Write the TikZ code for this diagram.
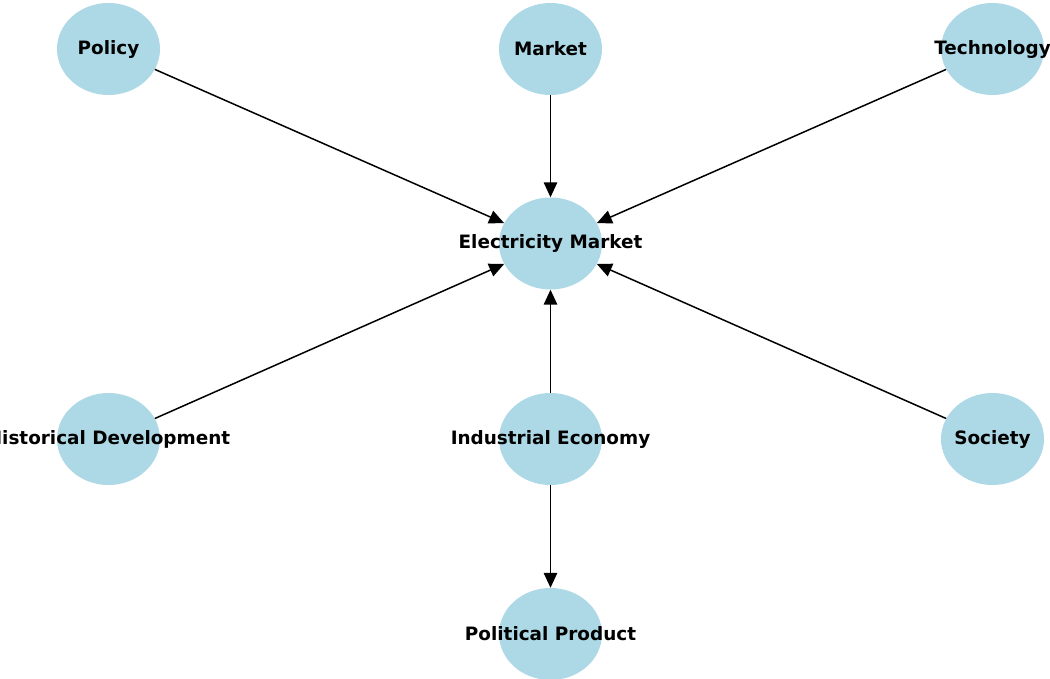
\documentclass[tikz,border=0pt]{standalone}
\usepackage{fontspec}
\setmainfont{DejaVu Sans}
\usetikzlibrary{shapes.geometric,arrows.meta}

\definecolor{nodeblue}{HTML}{ADD8E6}
\newcommand{\ntext}[1]{\raisebox{-2pt}{\makebox[0pt][c]{#1}}}

\begin{document}
\begin{tikzpicture}[x=1pt,y=-1pt,
  topic/.style={ellipse,fill=nodeblue,minimum width=103pt,minimum height=92pt,
    inner sep=0pt,font=\bfseries\fontsize{18.4}{20}\selectfont},
  link/.style={draw=black,line width=1.5pt,-{Triangle[length=15pt,width=13.5pt]}}]
\useasboundingbox (0,0) rectangle (1050,679);
% nodes
\node[topic] (policy) at (108.5,49) {\ntext{Policy}};
\node[topic] (market) at (550.5,49) {\ntext{Market}};
\node[topic] (tech) at (992.5,49) {\ntext{Technology}};
\node[topic] (elec) at (550.5,243.5) {\ntext{Electricity Market}};
\node[topic] (hist) at (108.5,439) {\ntext{Historical Development}};
\node[topic] (indus) at (550.5,439) {\ntext{Industrial Economy}};
\node[topic] (society) at (992.5,439) {\ntext{Society}};
\node[topic] (polprod) at (550.5,634) {\ntext{Political Product}};
% edges
\draw[link] (policy) -- (elec);
\draw[link] (market) -- (elec);
\draw[link] (tech) -- (elec);
\draw[link] (hist) -- (elec);
\draw[link] (indus) -- (elec);
\draw[link] (society) -- (elec);
\draw[link] (indus) -- (polprod);
\end{tikzpicture}
\end{document}
